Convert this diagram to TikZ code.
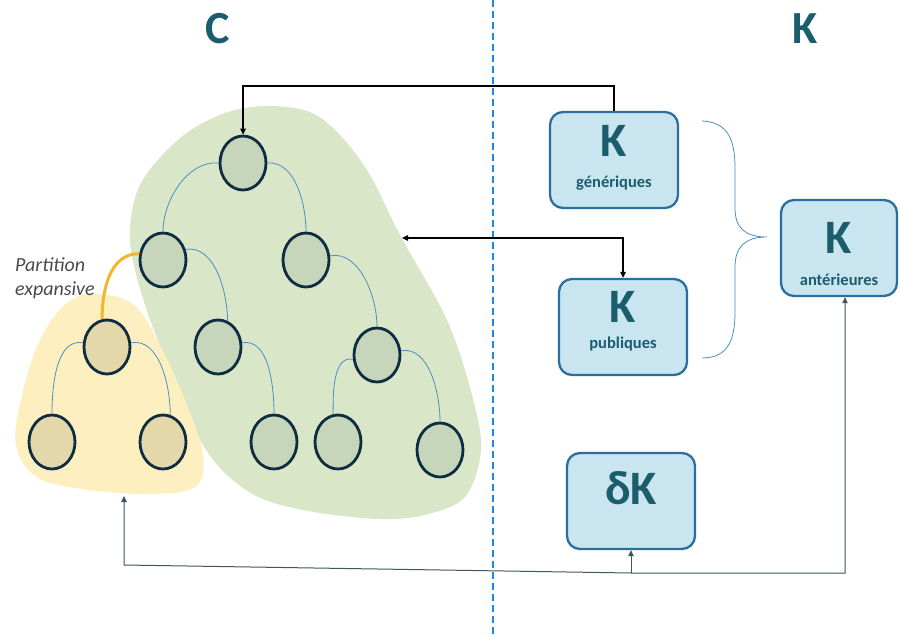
\documentclass[tikz,border=0pt]{standalone}
\usepackage{fontspec}
\setmainfont{Carlito}
\usetikzlibrary{shapes.geometric,arrows.meta}
\definecolor{ctitle}{HTML}{1C5D6C}
\definecolor{cgreenblob}{HTML}{D9E6C8}
\definecolor{cyellowblob}{HTML}{FDEFC0}
\definecolor{cgreenc}{HTML}{C7D5BA}
\definecolor{cyellowc}{HTML}{E4D7AA}
\definecolor{cnavy}{HTML}{0F2D42}
\definecolor{cedge}{HTML}{4A90C0}
\definecolor{corange}{HTML}{F4B62C}
\definecolor{cboxf}{HTML}{C9E5EF}
\definecolor{cboxb}{HTML}{2B6E9E}
\definecolor{cdash}{HTML}{1E88E5}
\definecolor{cslate}{HTML}{3C5860}
\definecolor{clabel}{HTML}{4A4A4A}
\tikzset{
  >={Triangle[length=6pt,width=5.5pt]},
  cnode/.style={ellipse, draw=cnavy, line width=2.8pt, fill=cgreenc, minimum width=46pt, minimum height=54pt, inner sep=0pt},
  ynode/.style={cnode, fill=cyellowc},
  kbox/.style={rounded corners=13pt, draw=cboxb, line width=2.3pt, fill=cboxf, minimum width=128pt, minimum height=96pt, inner sep=0pt},
  bigk/.style={text=ctitle, font=\fontsize{48}{50}\selectfont\bfseries, inner sep=0pt},
  smallk/.style={text=ctitle, font=\fontsize{16.5}{18}\selectfont\bfseries, inner sep=0pt},
  titletxt/.style={text=ctitle, font=\fontsize{46}{48}\selectfont\bfseries, inner sep=0pt},
  plabel/.style={text=clabel, font=\fontsize{20}{22}\selectfont\itshape, anchor=base west, inner sep=0pt},
  tedge/.style={draw=cedge, line width=0.8pt},
  blackarrow/.style={draw=black, line width=1.3pt},
  slatearrow/.style={draw=cslate, line width=1pt}
}
\begin{document}
\begin{tikzpicture}[x=1pt,y=-1pt]
\useasboundingbox (0,0) rectangle (900,635);
% blobs
\fill[cgreenblob] plot[smooth cycle, tension=0.55] coordinates {
 (267,106) (310,112) (340,135) (370,175) (400,235) (447,320) (472,395)
 (481,450) (465,497) (425,515) (380,519) (320,513) (265,500) (228,476)
 (200,440) (172,375) (145,305) (130,240) (140,185) (180,138) (225,113)};
\fill[cyellowblob] plot[smooth cycle, tension=0.6] coordinates {
 (100,294) (135,306) (160,345) (185,400) (203,455) (195,487) (150,494)
 (90,490) (38,478) (16,445) (22,395) (40,340) (68,302)};
% dashed separator
\coordinate (dtop) at (493,0);
\coordinate (dbot) at (493,635);
\draw[cdash, line width=1.1pt, dash pattern=on 7pt off 4pt] (dtop) -- (dbot);
% titles
\node[titletxt] (tc) at (218,29) {C};
\node[titletxt] (tk) at (805,29) {K};
% tree nodes
\node[cnode] (r) at (243,163) {};
\node[cnode] (c1) at (163,260) {};
\node[cnode] (c2) at (306,260) {};
\node[cnode] (c4) at (218,347) {};
\node[cnode] (c5) at (274,442) {};
\node[cnode] (c7) at (377,355) {};
\node[cnode] (c8) at (338,442) {};
\node[cnode] (c9) at (440,450) {};
\node[ynode] (y1) at (107,347) {};
\node[ynode] (y2) at (52,442) {};
\node[ynode] (y3) at (163,442) {};
% tree edges
\draw[tedge] (r.180) to[out=175,in=90,looseness=0.9] (c1.90);
\draw[tedge] (r.0) to[out=5,in=90,looseness=0.9] (c2.90);
\draw[tedge] (c1.25) to[out=10,in=90,looseness=0.9] (c4.70);
\draw[tedge] (c2.10) to[out=10,in=90,looseness=0.9] (c7.90);
\draw[tedge] (c7.190) to[out=170,in=90,looseness=0.9] (c8.100);
\draw[tedge] (c7.10) to[out=10,in=90,looseness=0.9] (c9.90);
\draw[tedge] (c4.10) to[out=10,in=90,looseness=0.9] (c5.90);
\draw[tedge] (y1.170) to[out=170,in=90,looseness=0.9] (y2.90);
\draw[tedge] (y1.10) to[out=10,in=90,looseness=0.9] (y3.75);
\draw[corange, line width=3pt] (c1.165) to[out=180,in=90] (y1.100);
% label
\node[plabel] (pl1) at (15,271) {Partition};
\node[plabel] (pl2) at (15,295) {expansive};
% boxes
\node[kbox] (gen) at (614,160) {};
\node[bigk] (genk) at (614,141) {K};
\node[smallk] (gent) at (614,183) {génériques};
\node[kbox] (pub) at (623,327) {};
\node[bigk] (pubk) at (623,307) {K};
\node[smallk] (pubt) at (623,344) {publiques};
\node[kbox, minimum width=116pt] (ant) at (839,248) {};
\node[bigk] (antk) at (839,238) {K};
\node[smallk] (antt) at (839,280) {antérieures};
\node[kbox] (dk) at (631,501) {};
\node[bigk] (dkk) at (631,488) {δK};
% brace
\draw[cedge, line width=0.8pt] (702,121) .. controls (728,122) and (735,140) .. (735,168)
  -- (735,208) .. controls (735,228) and (745,237) .. (767,237)
  .. controls (745,237) and (735,247) .. (735,267) -- (735,312)
  .. controls (735,340) and (728,358) .. (702,358);
% arrows
\coordinate (ta) at (614,86);
\draw[blackarrow, ->] (gen.north) -- (ta) -| (r.north);
\coordinate (ga) at (402,238);
\draw[blackarrow, <->] (ga) -| (pub.north);
\coordinate (yb) at (124,496);
\coordinate (yc) at (124,565);
\coordinate (dj) at (631,573);
\coordinate (ac) at (845,573);
\draw[slatearrow, <->] (yb) -- (yc) -- (dj) -- (ac) -- (ac |- ant.south);
\draw[slatearrow, ->] (dj) -- (dk.south);
\end{tikzpicture}
\end{document}
